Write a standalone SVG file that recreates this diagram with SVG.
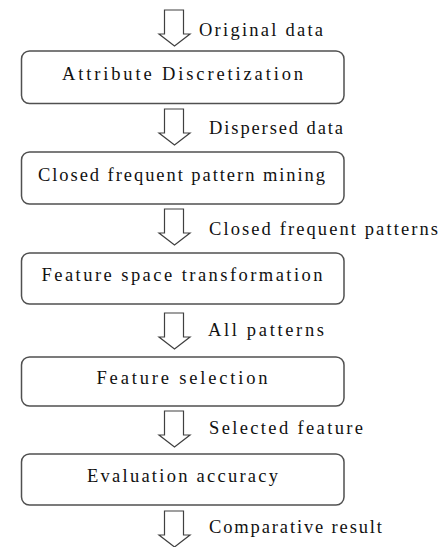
<svg xmlns="http://www.w3.org/2000/svg" width="442" height="547" viewBox="0 0 442 547">
  <defs>
    <style>
      .box { fill: #ffffff; stroke: #505050; stroke-width: 1.5; }
      .flow { fill: #ffffff; stroke: #404040; stroke-width: 1.2; stroke-linejoin: miter; }
      .t { font-family: "Liberation Serif", "DejaVu Serif", serif; font-size: 18.5px; fill: #111111; }
    </style>
    <!-- hollow block arrow, top of shaft at y=0 -->
    <path id="blockArrow" d="M164.5,0 H183.5 V24 H190 L174.5,36 L159,24 H164.5 Z"/>
  </defs>

  <rect width="442" height="547" fill="#ffffff"/>

  <g id="connectors">
    <use href="#blockArrow" class="flow" y="10"/>
    <use href="#blockArrow" class="flow" y="109"/>
    <use href="#blockArrow" class="flow" y="209"/>
    <use href="#blockArrow" class="flow" y="313"/>
    <use href="#blockArrow" class="flow" y="411"/>
    <use href="#blockArrow" class="flow" y="511"/>
    <text class="t" x="199" y="35.5" textLength="124" lengthAdjust="spacing">Original data</text>
    <text class="t" x="209" y="134" textLength="134" lengthAdjust="spacing">Dispersed data</text>
    <text class="t" x="209" y="235" textLength="229" lengthAdjust="spacing">Closed frequent patterns</text>
    <text class="t" x="208" y="336" textLength="116" lengthAdjust="spacing">All patterns</text>
    <text class="t" x="209" y="434" textLength="154" lengthAdjust="spacing">Selected feature</text>
    <text class="t" x="209" y="533" textLength="173" lengthAdjust="spacing">Comparative result</text>
  </g>

  <g id="attribute-discretization">
    <rect class="box" x="21.5" y="51" width="322.5" height="52.5" rx="8" ry="8"/>
    <text class="t" x="62" y="79.5" textLength="241" lengthAdjust="spacing">Attribute Discretization</text>
  </g>

  <g id="closed-pattern-mining">
    <rect class="box" x="21.5" y="152" width="322.5" height="52" rx="8" ry="8"/>
    <text class="t" x="38" y="180.5" textLength="287" lengthAdjust="spacing">Closed frequent pattern mining</text>
  </g>

  <g id="feature-space-transformation">
    <rect class="box" x="21.5" y="253" width="322.5" height="51" rx="8" ry="8"/>
    <text class="t" x="41.5" y="281" textLength="281" lengthAdjust="spacing">Feature space transformation</text>
  </g>

  <g id="feature-selection">
    <rect class="box" x="21.5" y="357" width="322.5" height="49" rx="8" ry="8"/>
    <text class="t" x="96.5" y="384" textLength="171" lengthAdjust="spacing">Feature selection</text>
  </g>

  <g id="evaluation-accuracy">
    <rect class="box" x="21.5" y="454" width="322.5" height="51" rx="8" ry="8"/>
    <text class="t" x="87" y="482" textLength="191" lengthAdjust="spacing">Evaluation accuracy</text>
  </g>
</svg>
